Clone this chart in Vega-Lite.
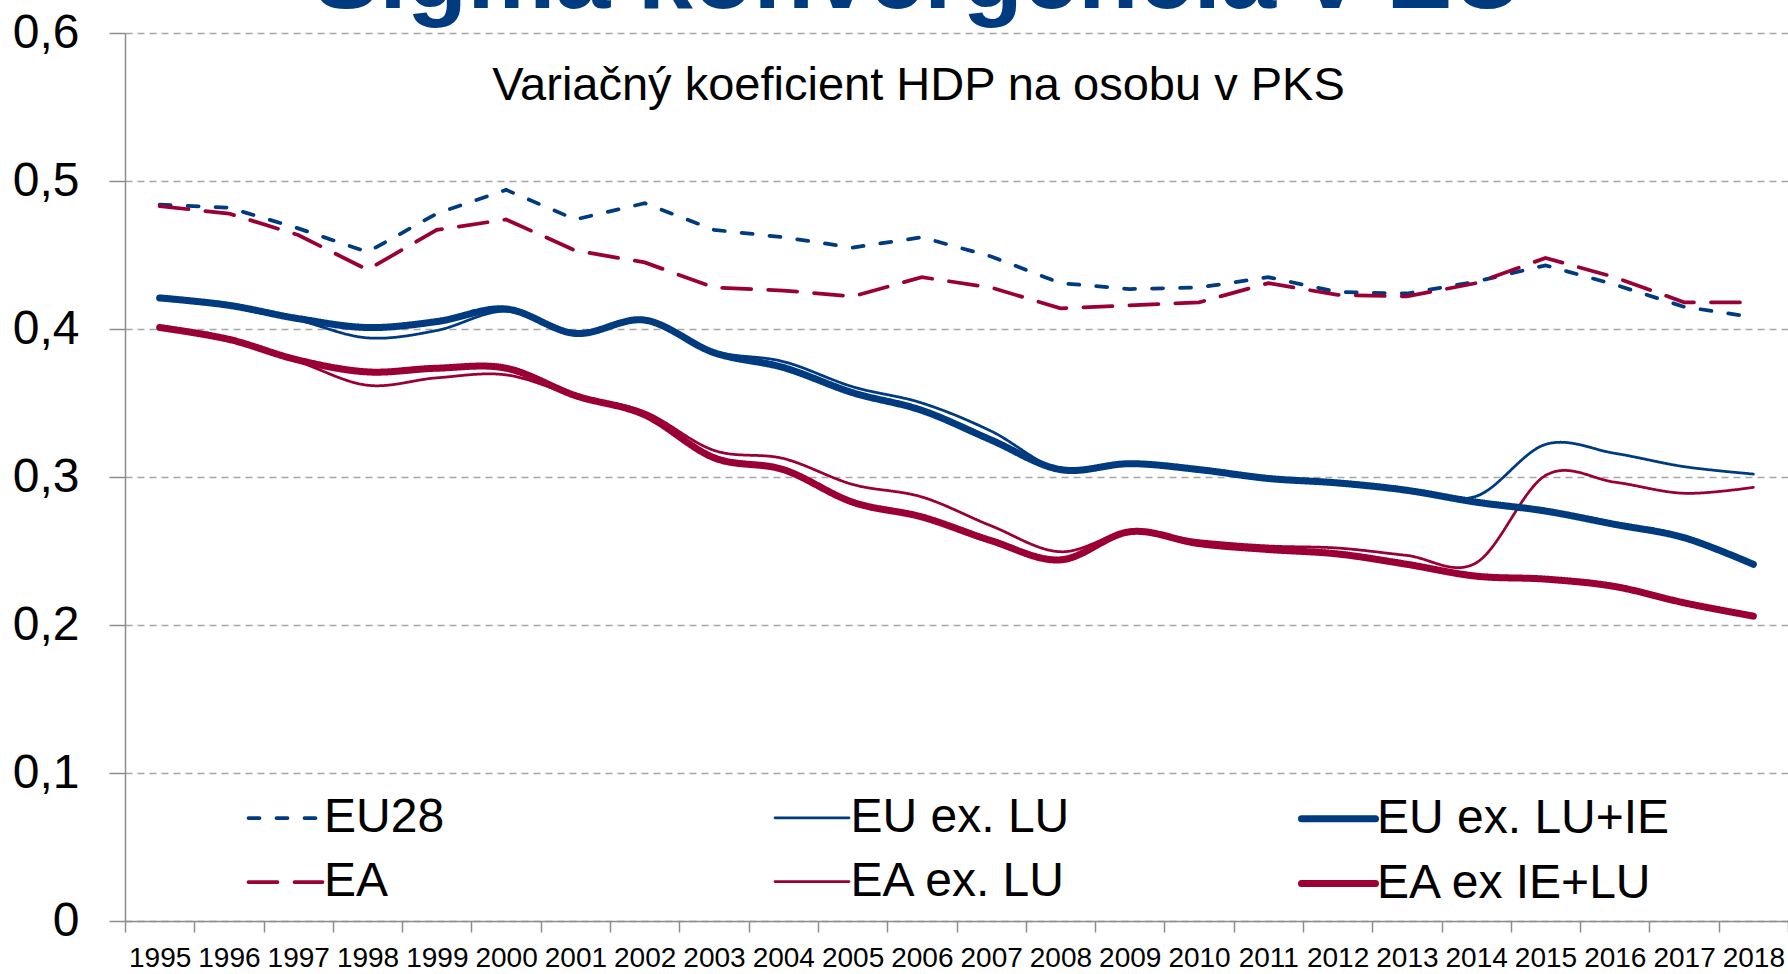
{
  "$schema": "https://vega.github.io/schema/vega-lite/v6.json",
  "autosize": "none",
  "width": 1663,
  "height": 888,
  "padding": {"left": 125, "top": 33, "right": 0, "bottom": 53},
  "background": "white",
  "title": {
    "text": "Sigma konvergencia v EÚ",
    "subtitle": "Variačný koeficient HDP na osobu v PKS",
    "anchor": "middle",
    "frame": "group",
    "font": "Liberation Sans",
    "fontSize": 99,
    "fontWeight": "bold",
    "color": "#003B80",
    "subtitleFont": "Liberation Sans",
    "subtitleFontSize": 47,
    "subtitleColor": "#000000",
    "subtitlePadding": 34,
    "offset": -101,
    "dx": -38
  },
  "data": {
    "values": [
      {"year": "1995", "series": "EU28", "value": 0.484},
      {"year": "1996", "series": "EU28", "value": 0.482},
      {"year": "1997", "series": "EU28", "value": 0.468},
      {"year": "1998", "series": "EU28", "value": 0.452},
      {"year": "1999", "series": "EU28", "value": 0.478},
      {"year": "2000", "series": "EU28", "value": 0.494},
      {"year": "2001", "series": "EU28", "value": 0.474},
      {"year": "2002", "series": "EU28", "value": 0.485},
      {"year": "2003", "series": "EU28", "value": 0.467},
      {"year": "2004", "series": "EU28", "value": 0.462},
      {"year": "2005", "series": "EU28", "value": 0.455},
      {"year": "2006", "series": "EU28", "value": 0.462},
      {"year": "2007", "series": "EU28", "value": 0.449},
      {"year": "2008", "series": "EU28", "value": 0.431},
      {"year": "2009", "series": "EU28", "value": 0.427},
      {"year": "2010", "series": "EU28", "value": 0.428},
      {"year": "2011", "series": "EU28", "value": 0.435},
      {"year": "2012", "series": "EU28", "value": 0.425},
      {"year": "2013", "series": "EU28", "value": 0.424},
      {"year": "2014", "series": "EU28", "value": 0.432},
      {"year": "2015", "series": "EU28", "value": 0.443},
      {"year": "2016", "series": "EU28", "value": 0.430},
      {"year": "2017", "series": "EU28", "value": 0.415},
      {"year": "2018", "series": "EU28", "value": 0.408},

      {"year": "1995", "series": "EA", "value": 0.483},
      {"year": "1996", "series": "EA", "value": 0.478},
      {"year": "1997", "series": "EA", "value": 0.4635},
      {"year": "1998", "series": "EA", "value": 0.440},
      {"year": "1999", "series": "EA", "value": 0.467},
      {"year": "2000", "series": "EA", "value": 0.474},
      {"year": "2001", "series": "EA", "value": 0.453},
      {"year": "2002", "series": "EA", "value": 0.445},
      {"year": "2003", "series": "EA", "value": 0.428},
      {"year": "2004", "series": "EA", "value": 0.426},
      {"year": "2005", "series": "EA", "value": 0.422},
      {"year": "2006", "series": "EA", "value": 0.435},
      {"year": "2007", "series": "EA", "value": 0.428},
      {"year": "2008", "series": "EA", "value": 0.414},
      {"year": "2009", "series": "EA", "value": 0.416},
      {"year": "2010", "series": "EA", "value": 0.418},
      {"year": "2011", "series": "EA", "value": 0.431},
      {"year": "2012", "series": "EA", "value": 0.423},
      {"year": "2013", "series": "EA", "value": 0.422},
      {"year": "2014", "series": "EA", "value": 0.431},
      {"year": "2015", "series": "EA", "value": 0.448},
      {"year": "2016", "series": "EA", "value": 0.435},
      {"year": "2017", "series": "EA", "value": 0.418},
      {"year": "2018", "series": "EA", "value": 0.418},

      {"year": "1995", "series": "EU ex. LU", "value": 0.421},
      {"year": "1996", "series": "EU ex. LU", "value": 0.416},
      {"year": "1997", "series": "EU ex. LU", "value": 0.406},
      {"year": "1998", "series": "EU ex. LU", "value": 0.394},
      {"year": "1999", "series": "EU ex. LU", "value": 0.399},
      {"year": "2000", "series": "EU ex. LU", "value": 0.412},
      {"year": "2001", "series": "EU ex. LU", "value": 0.397},
      {"year": "2002", "series": "EU ex. LU", "value": 0.405},
      {"year": "2003", "series": "EU ex. LU", "value": 0.385},
      {"year": "2004", "series": "EU ex. LU", "value": 0.378},
      {"year": "2005", "series": "EU ex. LU", "value": 0.361},
      {"year": "2006", "series": "EU ex. LU", "value": 0.350},
      {"year": "2007", "series": "EU ex. LU", "value": 0.331},
      {"year": "2008", "series": "EU ex. LU", "value": 0.305},
      {"year": "2009", "series": "EU ex. LU", "value": 0.309},
      {"year": "2010", "series": "EU ex. LU", "value": 0.305},
      {"year": "2011", "series": "EU ex. LU", "value": 0.299},
      {"year": "2012", "series": "EU ex. LU", "value": 0.296},
      {"year": "2013", "series": "EU ex. LU", "value": 0.291},
      {"year": "2014", "series": "EU ex. LU", "value": 0.287},
      {"year": "2015", "series": "EU ex. LU", "value": 0.322},
      {"year": "2016", "series": "EU ex. LU", "value": 0.316},
      {"year": "2017", "series": "EU ex. LU", "value": 0.307},
      {"year": "2018", "series": "EU ex. LU", "value": 0.302},

      {"year": "1995", "series": "EA ex. LU", "value": 0.401},
      {"year": "1996", "series": "EA ex. LU", "value": 0.393},
      {"year": "1997", "series": "EA ex. LU", "value": 0.378},
      {"year": "1998", "series": "EA ex. LU", "value": 0.362},
      {"year": "1999", "series": "EA ex. LU", "value": 0.367},
      {"year": "2000", "series": "EA ex. LU", "value": 0.369},
      {"year": "2001", "series": "EA ex. LU", "value": 0.355},
      {"year": "2002", "series": "EA ex. LU", "value": 0.344},
      {"year": "2003", "series": "EA ex. LU", "value": 0.318},
      {"year": "2004", "series": "EA ex. LU", "value": 0.3125},
      {"year": "2005", "series": "EA ex. LU", "value": 0.295},
      {"year": "2006", "series": "EA ex. LU", "value": 0.2865},
      {"year": "2007", "series": "EA ex. LU", "value": 0.267},
      {"year": "2008", "series": "EA ex. LU", "value": 0.2495},
      {"year": "2009", "series": "EA ex. LU", "value": 0.263},
      {"year": "2010", "series": "EA ex. LU", "value": 0.257},
      {"year": "2011", "series": "EA ex. LU", "value": 0.2534},
      {"year": "2012", "series": "EA ex. LU", "value": 0.252},
      {"year": "2013", "series": "EA ex. LU", "value": 0.247},
      {"year": "2014", "series": "EA ex. LU", "value": 0.242},
      {"year": "2015", "series": "EA ex. LU", "value": 0.301},
      {"year": "2016", "series": "EA ex. LU", "value": 0.2965},
      {"year": "2017", "series": "EA ex. LU", "value": 0.289},
      {"year": "2018", "series": "EA ex. LU", "value": 0.293},

      {"year": "1995", "series": "EU ex. LU+IE", "value": 0.421},
      {"year": "1996", "series": "EU ex. LU+IE", "value": 0.416},
      {"year": "1997", "series": "EU ex. LU+IE", "value": 0.407},
      {"year": "1998", "series": "EU ex. LU+IE", "value": 0.401},
      {"year": "1999", "series": "EU ex. LU+IE", "value": 0.405},
      {"year": "2000", "series": "EU ex. LU+IE", "value": 0.4135},
      {"year": "2001", "series": "EU ex. LU+IE", "value": 0.397},
      {"year": "2002", "series": "EU ex. LU+IE", "value": 0.406},
      {"year": "2003", "series": "EU ex. LU+IE", "value": 0.384},
      {"year": "2004", "series": "EU ex. LU+IE", "value": 0.374},
      {"year": "2005", "series": "EU ex. LU+IE", "value": 0.357},
      {"year": "2006", "series": "EU ex. LU+IE", "value": 0.345},
      {"year": "2007", "series": "EU ex. LU+IE", "value": 0.325},
      {"year": "2008", "series": "EU ex. LU+IE", "value": 0.305},
      {"year": "2009", "series": "EU ex. LU+IE", "value": 0.309},
      {"year": "2010", "series": "EU ex. LU+IE", "value": 0.305},
      {"year": "2011", "series": "EU ex. LU+IE", "value": 0.299},
      {"year": "2012", "series": "EU ex. LU+IE", "value": 0.296},
      {"year": "2013", "series": "EU ex. LU+IE", "value": 0.291},
      {"year": "2014", "series": "EU ex. LU+IE", "value": 0.283},
      {"year": "2015", "series": "EU ex. LU+IE", "value": 0.277},
      {"year": "2016", "series": "EU ex. LU+IE", "value": 0.268},
      {"year": "2017", "series": "EU ex. LU+IE", "value": 0.259},
      {"year": "2018", "series": "EU ex. LU+IE", "value": 0.241},

      {"year": "1995", "series": "EA ex IE+LU", "value": 0.401},
      {"year": "1996", "series": "EA ex IE+LU", "value": 0.393},
      {"year": "1997", "series": "EA ex IE+LU", "value": 0.379},
      {"year": "1998", "series": "EA ex IE+LU", "value": 0.371},
      {"year": "1999", "series": "EA ex IE+LU", "value": 0.3735},
      {"year": "2000", "series": "EA ex IE+LU", "value": 0.3735},
      {"year": "2001", "series": "EA ex IE+LU", "value": 0.355},
      {"year": "2002", "series": "EA ex IE+LU", "value": 0.342},
      {"year": "2003", "series": "EA ex IE+LU", "value": 0.313},
      {"year": "2004", "series": "EA ex IE+LU", "value": 0.305},
      {"year": "2005", "series": "EA ex IE+LU", "value": 0.283},
      {"year": "2006", "series": "EA ex IE+LU", "value": 0.273},
      {"year": "2007", "series": "EA ex IE+LU", "value": 0.257},
      {"year": "2008", "series": "EA ex IE+LU", "value": 0.244},
      {"year": "2009", "series": "EA ex IE+LU", "value": 0.263},
      {"year": "2010", "series": "EA ex IE+LU", "value": 0.255},
      {"year": "2011", "series": "EA ex IE+LU", "value": 0.251},
      {"year": "2012", "series": "EA ex IE+LU", "value": 0.248},
      {"year": "2013", "series": "EA ex IE+LU", "value": 0.241},
      {"year": "2014", "series": "EA ex IE+LU", "value": 0.233},
      {"year": "2015", "series": "EA ex IE+LU", "value": 0.231},
      {"year": "2016", "series": "EA ex IE+LU", "value": 0.226},
      {"year": "2017", "series": "EA ex IE+LU", "value": 0.215},
      {"year": "2018", "series": "EA ex IE+LU", "value": 0.206}
    ]
  },
  "encoding": {
    "x": {
      "field": "year",
      "type": "ordinal",
      "scale": {"paddingInner": 0, "paddingOuter": 0},
      "axis": {
        "title": null,
        "labelAngle": 0,
        "labelFont": "Liberation Sans",
        "labelFontSize": 28,
        "labelColor": "#000000",
        "labelPadding": 12,
        "labelOverlap": false,
        "tickBand": "extent",
        "tickSize": 11,
        "tickColor": "#8c8c8c",
        "tickWidth": 1.5,
        "domainColor": "#8c8c8c",
        "domainWidth": 1.5,
        "grid": false
      }
    },
    "y": {
      "field": "value",
      "type": "quantitative",
      "scale": {"domain": [0, 0.6], "nice": false, "zero": true},
      "axis": {
        "title": null,
        "values": [0, 0.1, 0.2, 0.3, 0.4, 0.5, 0.6],
        "labelExpr": "replace(format(datum.value, '~g'), '.', ',')",
        "labelFont": "Liberation Sans",
        "labelFontSize": 48,
        "labelColor": "#000000",
        "labelPadding": 30,
        "tickSize": 16,
        "tickColor": "#8c8c8c",
        "tickWidth": 1.5,
        "domainColor": "#8c8c8c",
        "domainWidth": 1.5,
        "grid": true,
        "gridColor": "#a6a6a6",
        "gridDash": [7, 5],
        "gridWidth": 1.5
      }
    },
    "color": {
      "field": "series",
      "type": "nominal",
      "scale": {
        "domain": ["EU28", "EA", "EU ex. LU", "EA ex. LU", "EU ex. LU+IE", "EA ex IE+LU"],
        "range": ["#003B80", "#9A0036", "#003B80", "#9A0036", "#003B80", "#9A0036"]
      },
      "legend": {
        "title": null,
        "orient": "none",
        "legendX": 120,
        "legendY": 745,
        "columns": 3,
        "gridAlign": "all",
        "columnPadding": 143.5,
        "rowPadding": -5,
        "symbolType": "stroke",
        "symbolSize": 5476,
        "labelFont": "Liberation Sans",
        "labelFontSize": 48,
        "labelColor": "#000000",
        "labelOffset": -2,
        "labelLimit": 600,
        "padding": 0,
        "encode": {
          "symbols": {
            "update": {
              "strokeCap": {"value": "round"}
            }
          }
        }
      }
    },
    "strokeDash": {
      "field": "series",
      "type": "nominal",
      "scale": {
        "domain": ["EU28", "EA", "EU ex. LU", "EA ex. LU", "EU ex. LU+IE", "EA ex IE+LU"],
        "range": [[11, 17], [29, 17], [1, 0], [1, 0], [1, 0], [1, 0]]
      }
    },
    "strokeWidth": {
      "field": "series",
      "type": "nominal",
      "scale": {
        "type": "ordinal",
        "domain": ["EU28", "EA", "EU ex. LU", "EA ex. LU", "EU ex. LU+IE", "EA ex IE+LU"],
        "range": [3.75, 3.75, 2.75, 2.75, 7, 7]
      }
    }
  },
  "layer": [
    {
      "transform": [{"filter": {"field": "series", "oneOf": ["EU28", "EA"]}}],
      "mark": {"type": "line", "interpolate": "linear", "strokeCap": "round"}
    },
    {
      "transform": [{"filter": {"field": "series", "oneOf": ["EU ex. LU", "EA ex. LU"]}}],
      "mark": {"type": "line", "interpolate": "cardinal", "strokeCap": "round"}
    },
    {
      "transform": [{"filter": {"field": "series", "oneOf": ["EU ex. LU+IE", "EA ex IE+LU"]}}],
      "mark": {"type": "line", "interpolate": "cardinal", "strokeCap": "round"}
    }
  ],
  "config": {
    "view": {"stroke": null},
    "font": "Liberation Sans"
  }
}
